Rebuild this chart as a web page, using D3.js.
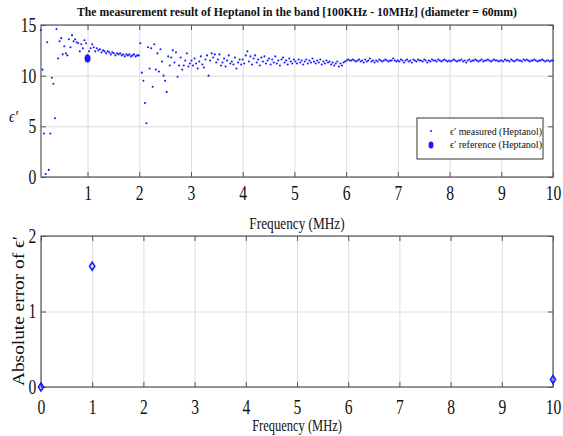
<!DOCTYPE html>
<html lang = 'en'>
    <head>
        <meta charset = 'UTF-8'>
        <title>Heptanol measurement</title>
        <script src="https://d3js.org/d3.v7.min.js"></script>
        <style>
            body {
                margin: 0;
                background-color: white;
            }
            text {
                font-family: 'Liberation Serif', serif;
                fill: #111;
            }
        </style>
    </head>
    <body>
        <svg id = 'chart' width = '563' height = '436'></svg>
        <script>
            // measured permittivity, one value every 0.03 MHz starting at 0.1 MHz
            let freqStart = 0.1
            let freqStep = 0.03
            let measured = [
                // 0.10 - 0.97
                14.5, 10.6, 4.3, 0.3, 13.3, 0.7, 4.3, 9.8, 9.2, 5.8, 14.6, 11.7, 13.4, 13.7, 12.1,
                12.9, 12.2, 12.0, 13.6, 12.8, 14.0, 13.4, 13.6, 13.3, 13.2, 12.4, 13.1, 12.7, 13.5, 13.2,
                // 1.00 - 1.99
                12.0, 12.4, 12.7, 13.1, 12.8, 12.4, 12.7, 12.5, 12.6, 12.3, 12.5, 12.4, 12.2, 12.4, 12.3, 12.1, 12.3,
                12.2, 12.0, 12.2, 12.1, 12.2, 12.0, 12.1, 11.9, 12.1, 12.0, 12.1, 11.9, 12.0, 12.1, 11.9, 12.0, 12.0,
                // 2.02 - 2.98
                13.2, 10.3, 9.5, 7.3, 5.3, 12.8, 10.7, 12.7, 8.9, 13.1, 10.6, 12.2, 10.4, 12.6, 11.4, 10.0, 9.5,
                8.4, 11.9, 11.0, 11.8, 12.5, 11.3, 12.3, 9.9, 11.0, 11.8, 10.6, 11.0, 11.5, 12.2, 10.9, 11.2,
                // 3.01 - 3.97
                11.5, 11.0, 11.7, 11.2, 10.7, 11.4, 11.9, 11.1, 10.8, 11.6, 12.0, 10.0, 11.5, 12.2, 11.8, 12.1, 11.3,
                11.6, 12.1, 11.0, 11.3, 11.7, 10.9, 11.5, 12.0, 11.2, 11.4, 11.1, 11.8, 10.7, 11.3, 11.6, 11.1,
                // 4.00 - 4.99
                11.6, 11.2, 12.0, 12.4, 11.4, 11.9, 11.1, 11.7, 12.0, 11.3, 11.6, 11.0, 11.8, 11.4, 11.9, 11.2, 11.5,
                11.7, 11.1, 11.6, 11.3, 11.9, 11.2, 11.5, 11.0, 11.6, 11.8, 11.3, 11.5, 11.1, 11.7, 11.4, 11.2, 11.6,
                // 5.02 - 5.98
                11.4, 11.2, 11.6, 11.3, 11.5, 11.1, 11.4, 11.6, 11.2, 11.5, 11.3, 11.7, 11.4, 11.2, 11.5, 11.3, 11.6,
                11.1, 11.4, 11.2, 11.5, 11.3, 11.4, 11.1, 11.3, 11.0, 11.2, 11.4, 10.9, 11.2, 11.0, 11.3, 11.4,
                // 6.01 - 6.97
                11.5, 11.6, 11.5, 11.5, 11.6, 11.5, 11.4, 11.5, 11.6, 11.4, 11.5, 11.3, 11.6, 11.4, 11.5, 11.7, 11.4,
                11.5, 11.3, 11.5, 11.4, 11.6, 11.5, 11.4, 11.5, 11.6, 11.5, 11.4, 11.5, 11.5, 11.7, 11.5, 11.4,
                // 7.00 - 7.99
                11.5, 11.4, 11.6, 11.5, 11.3, 11.5, 11.6, 11.4, 11.5, 11.3, 11.6, 11.5, 11.4, 11.6, 11.5, 11.5, 11.4,
                11.6, 11.5, 11.3, 11.5, 11.4, 11.6, 11.5, 11.5, 11.4, 11.6, 11.5, 11.4, 11.5, 11.6, 11.5, 11.4, 11.5,
                // 8.02 - 8.98
                11.4, 11.5, 11.6, 11.5, 11.4, 11.5, 11.5, 11.6, 11.4, 11.5, 11.3, 11.5, 11.6, 11.4, 11.5, 11.5, 11.6,
                11.5, 11.4, 11.5, 11.6, 11.4, 11.5, 11.5, 11.6, 11.5, 11.4, 11.5, 11.6, 11.5, 11.5, 11.4, 11.5,
                // 9.01 - 10.00
                11.5, 11.4, 11.6, 11.5, 11.5, 11.4, 11.6, 11.5, 11.4, 11.5, 11.6, 11.5, 11.5, 11.4, 11.6, 11.5, 11.6,
                11.5, 11.4, 11.5, 11.5, 11.6, 11.5, 11.4, 11.5, 11.5, 11.6, 11.5, 11.4, 11.5, 11.5, 11.4, 11.5, 11.5
            ]
            let referenceFreq = [1]
            let referenceValue = [11.7]

            let errorFreq = [0, 1, 10]
            let errorValue = [0, 1.6, 0.1]

            let topXTicks = [1, 2, 3, 4, 5, 6, 7, 8, 9, 10]
            let topYTicks = [0, 5, 10, 15]
            let bottomXTicks = [0, 1, 2, 3, 4, 5, 6, 7, 8, 9, 10]
            let bottomYTicks = [0, 1, 2]

            let titleText = 'The measurement result of Heptanol in the band [100KHz - 10MHz] (diameter = 60mm)'
            let legendLabels = ['\u03f5\u2032 measured (Heptanol)', '\u03f5\u2032 reference (Heptanol)']

            let measuredData = measured.map((v, i) => ({f: freqStart + freqStep * i, v: v}))
            let referenceData = referenceFreq.map((f, i) => ({f: f, v: referenceValue[i]}))
            let errorData = errorFreq.map((f, i) => ({f: f, v: errorValue[i]}))

            let svg = d3.select('#chart')
            let squeeze = 'scale(0.78,1)'
            let blue = '#1a1aff'
            let fmt = d3.format('d')

            // draws grid, inward ticks and box; returns the x axis group for label tweaks
            function drawFrame(x, y, xTicks, yTicks) {
                let [x0, x1] = x.range()
                let [y0, y1] = y.range()
                let g = svg.append('g')

                g.append('g')
                    .attr('transform', `translate(0,${y0})`)
                    .call(d3.axisBottom(x).tickValues(xTicks).tickSize(-(y0 - y1)).tickFormat(''))
                    .call(a => a.select('.domain').remove())
                    .call(a => a.selectAll('line').attr('stroke', '#dcdcdc'))
                g.append('g')
                    .attr('transform', `translate(${x0},0)`)
                    .call(d3.axisLeft(y).tickValues(yTicks).tickSize(-(x1 - x0)).tickFormat(''))
                    .call(a => a.select('.domain').remove())
                    .call(a => a.selectAll('line').attr('stroke', '#dcdcdc'))

                let tk = 5
                let xAxis = g.append('g')
                    .attr('transform', `translate(0,${y0})`)
                    .call(d3.axisBottom(x).tickValues(xTicks).tickSize(-tk).tickSizeOuter(0).tickFormat(fmt))
                let yAxis = g.append('g')
                    .attr('transform', `translate(${x0},0)`)
                    .call(d3.axisLeft(y).tickValues(yTicks).tickSize(-tk).tickSizeOuter(0).tickFormat(fmt))
                g.append('g')
                    .attr('transform', `translate(0,${y1})`)
                    .call(d3.axisTop(x).tickValues(xTicks).tickSize(-tk).tickSizeOuter(0).tickFormat(''))
                g.append('g')
                    .attr('transform', `translate(${x1},0)`)
                    .call(d3.axisRight(y).tickValues(yTicks).tickSize(-tk).tickSizeOuter(0).tickFormat(''))
                g.selectAll('.domain').remove()
                g.selectAll('.tick line').filter(function () { return d3.select(this).attr('stroke') !== '#dcdcdc' })
                    .attr('stroke', '#555')

                g.append('rect')
                    .attr('x', x0)
                    .attr('y', y1)
                    .attr('width', x1 - x0)
                    .attr('height', y0 - y1)
                    .attr('fill', 'none')
                    .attr('stroke', '#555')
                    .attr('stroke-width', 1.2)

                g.selectAll('.tick text')
                    .attr('font-family', 'Liberation Serif')
                    .attr('font-size', 20)
                    .attr('fill', '#111')
                yAxis.selectAll('.tick text').attr('x', -6).attr('transform', squeeze)
                return xAxis
            }

            // ---------- top plot ----------
            let xTop = d3.scaleLinear().domain([0.1, 10]).range([41, 553])
            let yTop = d3.scaleLinear().domain([0, 15]).range([177, 25])
            drawFrame(xTop, yTop, topXTicks, topYTicks)
                .selectAll('.tick text').attr('y', 9).attr('dy', '0.71em').attr('transform', squeeze)

            svg.append('g')
                .selectAll('circle')
                .data(measuredData)
                .join('circle')
                .attr('cx', d => xTop(d.f))
                .attr('cy', d => yTop(d.v))
                .attr('r', 1.05)
                .attr('fill', blue)

            svg.append('g')
                .selectAll('ellipse')
                .data(referenceData)
                .join('ellipse')
                .attr('cx', d => xTop(d.f))
                .attr('cy', d => yTop(d.v))
                .attr('rx', 3)
                .attr('ry', 4)
                .attr('fill', blue)

            svg.append('text')
                .attr('x', 297)
                .attr('y', 16)
                .attr('text-anchor', 'middle')
                .attr('font-size', 12)
                .attr('font-weight', 'bold')
                .attr('textLength', 440)
                .attr('lengthAdjust', 'spacingAndGlyphs')
                .text(titleText)

            svg.append('text')
                .attr('transform', 'translate(9,122) scale(0.85,1)')
                .attr('font-size', 17)
                .attr('font-style', 'italic')
                .text('\u03f5\u2032')

            svg.append('text')
                .attr('transform', 'translate(297,229) scale(0.78,1)')
                .attr('text-anchor', 'middle')
                .attr('font-size', 17)
                .text('Frequency (MHz)')

            // legend
            let legend = svg.append('g').attr('transform', 'translate(417,118)')
            legend.append('rect')
                .attr('width', 126)
                .attr('height', 41)
                .attr('fill', 'white')
                .attr('stroke', '#333')
                .attr('stroke-width', 1)
            legend.append('circle').attr('cx', 14).attr('cy', 13).attr('r', 1).attr('fill', blue)
            legend.append('ellipse').attr('cx', 14).attr('cy', 27).attr('rx', 2.5).attr('ry', 3.5).attr('fill', blue)
            legend.selectAll('text.lg')
                .data(legendLabels)
                .join('text')
                .attr('class', 'lg')
                .attr('x', 33)
                .attr('y', (d, i) => 17 + i * 13)
                .attr('font-size', 11)
                .attr('textLength', 92)
                .attr('lengthAdjust', 'spacingAndGlyphs')
                .text(d => d)

            // ---------- bottom plot ----------
            let xBot = d3.scaleLinear().domain([0, 10]).range([41, 553])
            let yBot = d3.scaleLinear().domain([0, 2]).range([387, 236])
            drawFrame(xBot, yBot, bottomXTicks, bottomYTicks)
                .selectAll('.tick text').attr('y', 13).attr('dy', '0.71em').attr('transform', squeeze)

            svg.append('g')
                .selectAll('path')
                .data(errorData)
                .join('path')
                .attr('transform', d => `translate(${xBot(d.f)},${yBot(d.v)})`)
                .attr('d', 'M0,-4L2.6,0L0,4L-2.6,0Z')
                .attr('fill', 'none')
                .attr('stroke', blue)
                .attr('stroke-width', 1.6)

            svg.append('text')
                .attr('transform', 'translate(24,311) rotate(-90)')
                .attr('text-anchor', 'middle')
                .attr('font-size', 17)
                .attr('textLength', 150)
                .attr('lengthAdjust', 'spacingAndGlyphs')
                .text('Absolute error of \u03f5\u2032')

            svg.append('text')
                .attr('transform', 'translate(297,431) scale(0.78,1)')
                .attr('text-anchor', 'middle')
                .attr('font-size', 16)
                .text('Frequency (MHz)')
        </script>
    </body>
</html>
